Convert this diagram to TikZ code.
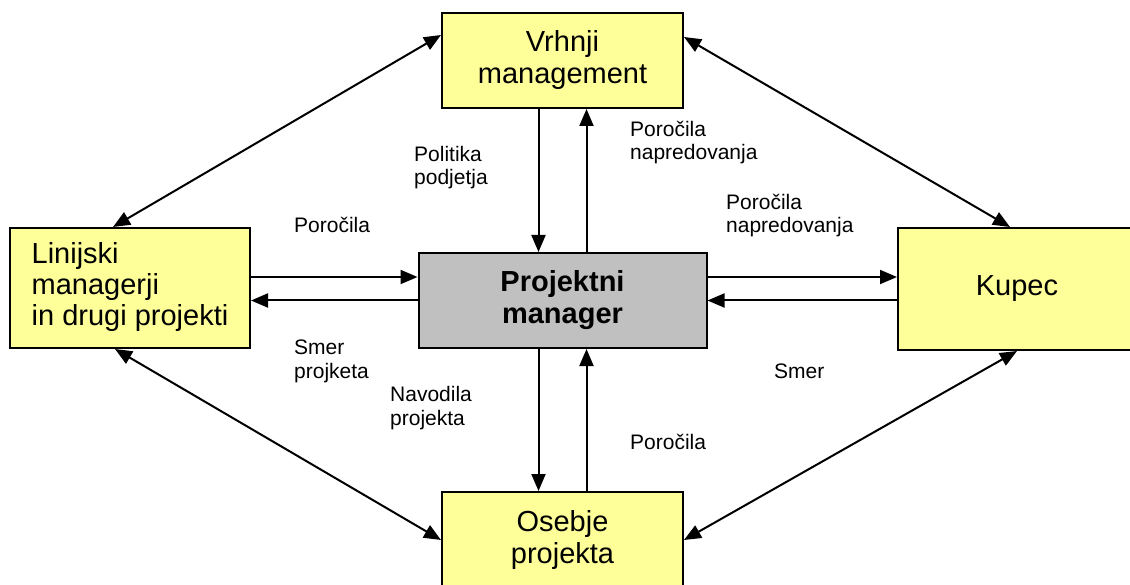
\documentclass[tikz,border=0pt]{standalone}
\usepackage{fontspec}
\setmainfont{Liberation Sans}
\usetikzlibrary{arrows.meta}
\definecolor{boxyellow}{RGB}{255,255,153}
\definecolor{boxgray}{RGB}{192,192,192}
\begin{document}
\begin{tikzpicture}[x=1pt,y=-1pt,
  box/.style={draw=black, line width=2pt, fill=boxyellow, inner sep=0pt,
    font=\fontsize{29}{32}\selectfont, align=center},
  arr/.style={line width=2pt, -{Triangle[length=17pt,width=14pt]}},
  darr/.style={line width=2pt, {Triangle[length=17pt,width=14pt]}-{Triangle[length=17pt,width=14pt]}},
  lbl/.style={anchor=base west, inner sep=0pt, align=left,
    font=\fontsize{21}{23.5}\selectfont}]
\useasboundingbox (0,0) rectangle (1130,585);
\fill[white] (0,0) rectangle (1130,585);
\clip (0,0) rectangle (1130,585);

% boxes
\node[box, minimum width=241pt, minimum height=95pt] (T) at (562.5,60.5) {Vrhnji\\management};
\node[box, minimum width=240pt, minimum height=120pt] (L) at (130,288) {\begin{tabular}{@{}l@{}}Linijski\\[-1pt]managerji\\[-1pt]in drugi projekti\end{tabular}};
\node[box, fill=boxgray, minimum width=288pt, minimum height=95pt] (P) at (562.5,300.5) {\textbf{Projektni}\\\textbf{manager}};
\node[box, minimum width=238pt, minimum height=122pt] (K) at (1017,289) {Kupec};
\node[box, minimum width=241pt, minimum height=96pt] (B) at (562.5,540) {Osebje\\projekta};

% vertical arrows
\draw[arr] ([xshift=-24pt]T.south) -- ([xshift=-24pt]T.south |- P.north);
\draw[arr] ([xshift=24pt]P.north) -- ([xshift=24pt]P.north |- T.south);
\draw[arr] ([xshift=-24pt]P.south) -- ([xshift=-24pt]P.south |- B.north);
\draw[arr] ([xshift=24pt]B.north) -- ([xshift=24pt]B.north |- P.south);

% horizontal arrows
\draw[arr] ([yshift=23.5pt]P.west -| L.east) -- ([yshift=23.5pt]P.west);
\draw[arr] (P.west) -- (P.west -| L.east);
\draw[arr] ([yshift=23.5pt]P.east) -- ([yshift=23.5pt]P.east -| K.west);
\draw[arr] (P.east -| K.west) -- (P.east);

% diagonal arrows
\draw[darr] ([xshift=-17pt]L.north) -- ([yshift=25.5pt]T.west);
\draw[darr] ([yshift=23.5pt]T.east) -- ([xshift=-7pt]K.north);
\draw[darr] ([xshift=-15pt]L.south) -- (B.west);
\draw[darr] (B.east) -- (K.south);

% labels (base = baseline of last line)
\node[lbl] (l1) at (414,185) {Politika\\podjetja};
\node[lbl] (l2) at (630,160) {Poročila\\napredovanja};
\node[lbl] (l3) at (294,233) {Poročila};
\node[lbl] (l4) at (726,233) {Poročila\\napredovanja};
\node[lbl] (l5) at (294,378) {Smer\\projketa};
\node[lbl] (l6) at (390,425) {Navodila\\projekta};
\node[lbl] (l7) at (774,378) {Smer};
\node[lbl] (l8) at (630,449) {Poročila};
\end{tikzpicture}
\end{document}
